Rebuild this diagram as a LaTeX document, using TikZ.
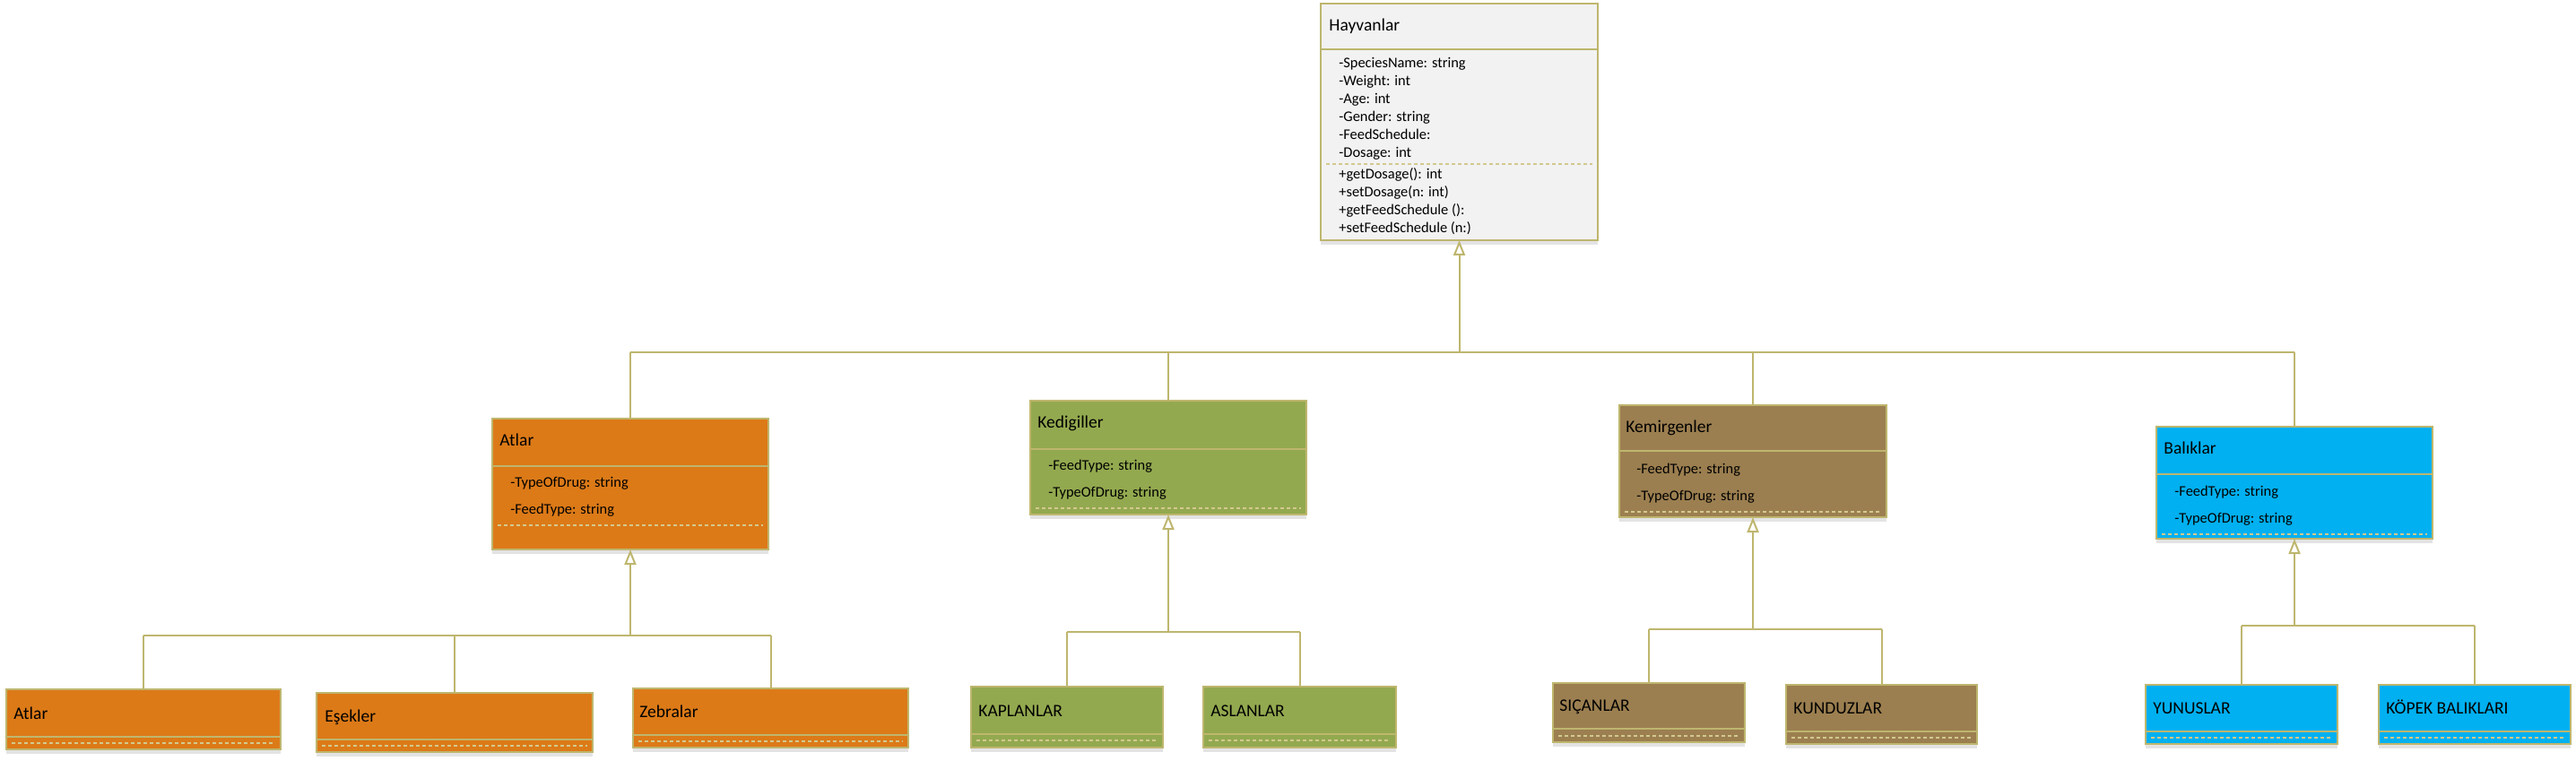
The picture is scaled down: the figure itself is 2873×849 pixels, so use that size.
\documentclass[tikz,border=0pt]{standalone}
\usepackage{fontspec}
\setmainfont{Carlito}
\usetikzlibrary{fit,shadows,arrows.meta}
\definecolor{bord}{HTML}{BEB66E}
\definecolor{cgray}{HTML}{F2F2F2}
\definecolor{corange}{HTML}{DC7A18}
\definecolor{cgreen}{HTML}{93A94F}
\definecolor{cbrown}{HTML}{9C7F50}
\definecolor{ccyan}{HTML}{00B0F0}
\definecolor{cdash}{HTML}{D2C98E}
\newcommand\umlbox[8]{%
  \node[classbox,fill=#8,fit={(#2,#3)(#4,#7)}] (#1) {};
  \draw[sepline] (#2,#5) -- (#4,#5);
  \draw[dashline] (#2+6,#6) -- (#4-6,#6);
}
\begin{document}
\begin{tikzpicture}[x=0.5pt,y=-0.5pt,
  classbox/.style={draw=bord,line width=1.2pt,inner sep=0pt,outer sep=0pt,
    drop shadow={shadow xshift=0pt,shadow yshift=-2.5pt,opacity=0.22}},
  sepline/.style={draw=bord,line width=1.2pt},
  dashline/.style={draw=cdash,line width=0.8pt,dash pattern=on 2pt off 1.5pt},
  titletext/.style={font=\fontsize{9.75}{11}\selectfont,anchor=base west,inner sep=0pt},
  attrtext/.style={font=\fontsize{8.2}{10}\selectfont,anchor=base west,inner sep=0pt},
  conn/.style={draw=bord,line width=1pt},
  inh/.style={conn,-{Triangle[open,length=8.5pt,width=6.5pt]}}]
\useasboundingbox (0,0) rectangle (2873,849);

% ---------- boxes ----------
\umlbox{hay}{1473}{4}{1782}{55}{183}{268}{cgray}
\umlbox{atlarm}{549}{467}{857}{520}{586}{613}{corange}
\umlbox{kedi}{1149}{447}{1457}{501}{567}{574}{cgreen}
\umlbox{kemir}{1806}{452}{2104}{503}{571}{577}{cbrown}
\umlbox{balik}{2405}{476}{2713}{529}{596}{601}{ccyan}

\umlbox{atlarl}{7}{769}{313}{822}{829}{836}{corange}
\umlbox{esek}{353}{773}{661}{825}{832}{839}{corange}
\umlbox{zebra}{706}{768}{1013}{820}{827}{834}{corange}
\umlbox{kaplan}{1083}{766}{1297}{819}{826}{834}{cgreen}
\umlbox{aslan}{1342}{766}{1557}{819}{826}{834}{cgreen}
\umlbox{sican}{1732}{762}{1946}{813}{821}{828}{cbrown}
\umlbox{kunduz}{1992}{764}{2205}{816}{823}{830}{cbrown}
\umlbox{yunus}{2393}{764}{2607}{816}{823}{830}{ccyan}
\umlbox{kopek}{2653}{764}{2867}{816}{823}{830}{ccyan}

% ---------- texts ----------
\node[titletext] (hay-t) at (1482,35) {Hayvanlar};
\foreach \t [count=\i from 0] in {-SpeciesName: string,-Weight: int,-Age: int,-Gender: string,-FeedSchedule:,-Dosage: int}
  {\node[attrtext] (hay-a\i) at (1493,76+20*\i) {\t};}
\foreach \t [count=\i from 0] in {+getDosage(): int,+setDosage(n: int),+getFeedSchedule ():,+setFeedSchedule (n:)}
  {\node[attrtext] (hay-m\i) at (1493,200+20*\i) {\t};}

\node[titletext] (atlarm-t) at (557,498) {Atlar};
\node[attrtext] (atlarm-a1) at (569,544) {-TypeOfDrug: string};
\node[attrtext] (atlarm-a2) at (569,574) {-FeedType: string};

\node[titletext] (kedi-t) at (1157,478) {Kedigiller};
\node[attrtext] (kedi-a1) at (1169,524) {-FeedType: string};
\node[attrtext] (kedi-a2) at (1169,554) {-TypeOfDrug: string};

\node[titletext] (kemir-t) at (1813,483) {Kemirgenler};
\node[attrtext] (kemir-a1) at (1825,529) {-FeedType: string};
\node[attrtext] (kemir-a2) at (1825,559) {-TypeOfDrug: string};

\node[titletext] (balik-t) at (2413,507) {Balıklar};
\node[attrtext] (balik-a1) at (2425,553) {-FeedType: string};
\node[attrtext] (balik-a2) at (2425,583) {-TypeOfDrug: string};

\node[titletext] (atlarl-t) at (15,802) {Atlar};
\node[titletext] (esek-t) at (362,805) {Eşekler};
\node[titletext] (zebra-t) at (713,800) {Zebralar};
\node[titletext] (kaplan-t) at (1091,799) {KAPLANLAR};
\node[titletext] (aslan-t) at (1350,799) {ASLANLAR};
\node[titletext] (sican-t) at (1739,793) {SIÇANLAR};
\node[titletext] (kunduz-t) at (2000,796) {KUNDUZLAR};
\node[titletext] (yunus-t) at (2401,796) {YUNUSLAR};
\node[titletext] (kopek-t) at (2661,796) {KÖPEK BALIKLARI};

% ---------- connectors ----------
\coordinate (bus0) at (0,393);
\coordinate (busA) at (0,709);
\coordinate (busK) at (0,705);
\coordinate (busR) at (0,702);
\coordinate (busB) at (0,698);

% top level
\draw[conn] (atlarm.north |- bus0) -- (balik.north |- bus0);
\foreach \n in {atlarm,kedi,kemir,balik} {\draw[conn] (\n.north) -- (\n.north |- bus0);}
\draw[inh] (hay.south |- bus0) -- (hay.south);

% Atlar group
\draw[conn] (atlarl.north |- busA) -- (zebra.north |- busA);
\foreach \n in {atlarl,esek,zebra} {\draw[conn] (\n.north) -- (\n.north |- busA);}
\draw[inh] (atlarm.south |- busA) -- (atlarm.south);

% Kedigiller group
\draw[conn] (kaplan.north |- busK) -- (aslan.north |- busK);
\foreach \n in {kaplan,aslan} {\draw[conn] (\n.north) -- (\n.north |- busK);}
\draw[inh] (kedi.south |- busK) -- (kedi.south);

% Kemirgenler group
\draw[conn] (sican.north |- busR) -- (kunduz.north |- busR);
\foreach \n in {sican,kunduz} {\draw[conn] (\n.north) -- (\n.north |- busR);}
\draw[inh] (kemir.south |- busR) -- (kemir.south);

% Baliklar group
\draw[conn] (yunus.north |- busB) -- (kopek.north |- busB);
\foreach \n in {yunus,kopek} {\draw[conn] (\n.north) -- (\n.north |- busB);}
\draw[inh] (balik.south |- busB) -- (balik.south);
\end{tikzpicture}
\end{document}
